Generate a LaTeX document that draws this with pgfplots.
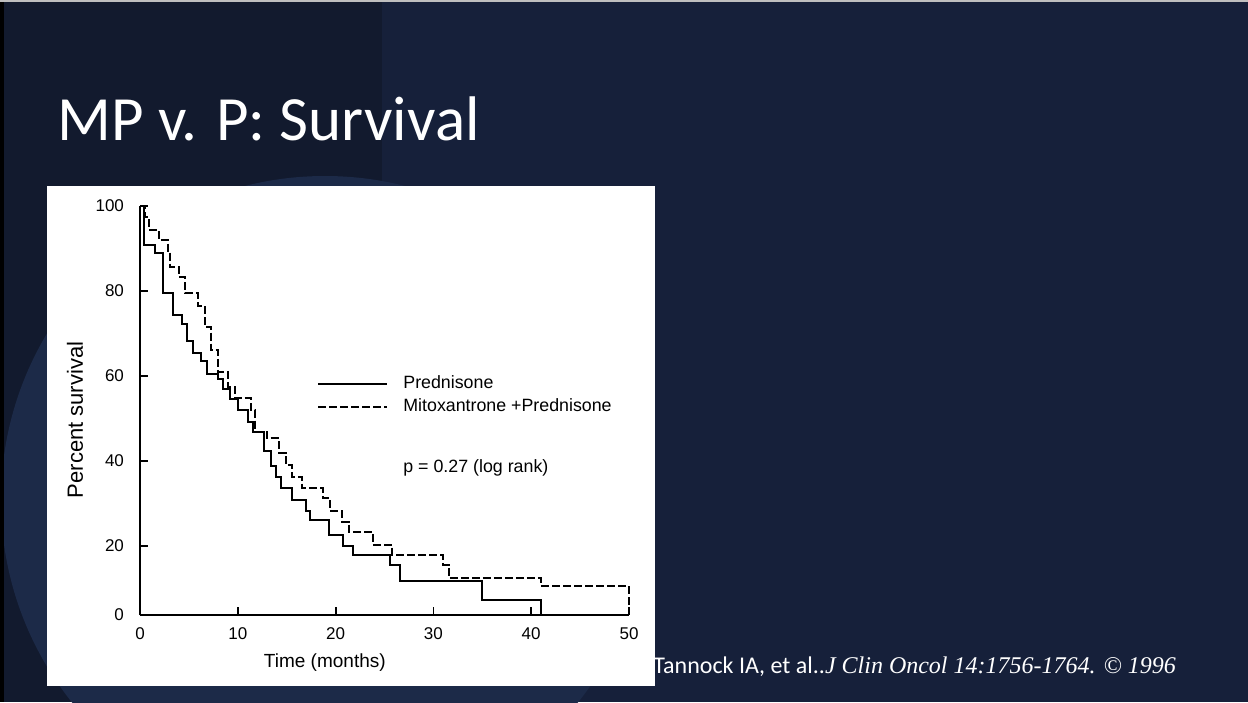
\documentclass[border=0pt]{standalone}
\usepackage{fontspec}
\setmainfont{Liberation Sans}
\newfontfamily\carlito{Carlito}
\newfontfamily\timesf{Liberation Serif}
\usepackage{pgfplots}
\pgfplotsset{compat=1.18}
\definecolor{bgmain}{HTML}{16203A}
\definecolor{bgleft}{HTML}{121A2E}
\definecolor{bgcircle}{HTML}{1C2A48}
\begin{document}
\begin{tikzpicture}
\useasboundingbox (0,0) rectangle (624pt,-351pt);
\begin{scope}[x=0.5pt,y=-0.5pt]
\fill[bgmain] (0,0) rectangle (1248,702);
\fill[bgleft] (0,0) rectangle (382,702);
\begin{scope}
\clip (0,0) rectangle (1248,702);
\fill[bgcircle] (325,500) circle[radius=162pt];
\end{scope}
\fill[black] (0,0) rectangle (4,702);
\fill[black!25] (0,0) rectangle (1248,2);
\fill[white] (47,186) rectangle (655,686);
\node[anchor=base west, text=white, font=\carlito\fontsize{31.5}{38}\selectfont, inner sep=0pt] at (57,140) {MP v. P: Survival};
% legend
\draw[black, line width=0.9pt] (318,384) -- (387,384);
\draw[black, line width=0.9pt, dash pattern=on 4pt off 1.5pt] (318,407) -- (387,407);
\node[anchor=base west, inner sep=0pt, font=\fontsize{8.9}{10}\selectfont] at (403,388) {Prednisone};
\node[anchor=base west, inner sep=0pt, font=\fontsize{8.9}{10}\selectfont] at (403,411) {Mitoxantrone +Prednisone};
\node[anchor=base west, inner sep=0pt, font=\fontsize{8.9}{10}\selectfont] at (403,472) {p = 0.27 (log rank)};
\node[anchor=base west, inner sep=0pt, text=white, font=\fontsize{12}{14}\selectfont] at (653,673) {{\carlito Tannock IA, et al..}{\timesf\itshape J Clin Oncol 14:1756-1764. \textcopyright{} 1996}};
\end{scope}
\begin{axis}[
  at={(70pt,-307.5pt)}, anchor=south west,
  scale only axis, width=244.5pt, height=204.5pt,
  xmin=0, xmax=50, ymin=3.7, ymax=100,
  axis x line=bottom, axis y line=left,
  axis line style={black, line width=0.9pt, -},
  xtick={0,10,20,30,40,50},
  ytick={3.7,20,40,60,80,100}, yticklabels={0,20,40,60,80,100},
  tick align=inside, major tick length=4pt,
  tick style={black, line width=0.9pt},
  ticklabel style={font=\fontsize{8.5}{10}\selectfont},
  every x tick label/.append style={yshift=-3pt},
  every y tick label/.append style={xshift=-4.5pt},
  /pgf/number format/assume math mode=true,
  xlabel={Time (months)}, ylabel={Percent survival},
  xlabel style={at={(axis description cs:0.378,-0.117)}, anchor=center, font=\fontsize{9.5}{11}\selectfont},
  ylabel style={at={(axis description cs:-0.133,0.477)}, anchor=center, font=\fontsize{11}{13}\selectfont},
  clip=false,
]
\addplot[const plot, black, line width=1pt] coordinates {
(0,100)(0.45,90.8)(1.5,88.9)(2.4,79.5)(3.4,74.4)(4.3,72.2)(4.8,68.3)(5.4,65.5)(6.2,63.4)(6.9,60.5)(8.0,59.3)(8.5,57.0)(9.2,54.6)(10.0,52.0)(11.0,49.2)(11.6,46.9)(12.7,42.3)(13.4,38.8)(13.9,36.3)(14.4,33.7)(15.5,30.8)(17.0,28.3)(17.4,26.1)(19.3,22.6)(20.8,20.0)(21.8,17.9)(25.6,15.5)(26.6,11.6)(35.0,7.3)(41.0,3.7)
};
\addplot[const plot, black, line width=1pt, dash pattern=on 4pt off 1.5pt] coordinates {
(0,100)(0.5,97.4)(0.9,94.4)(1.9,92.0)(2.9,89.5)(3.1,85.7)(4.0,83.4)(4.6,79.5)(5.9,76.5)(6.6,71.6)(7.3,66.0)(8.0,61.0)(9.0,57.5)(9.7,54.7)(11.3,52.0)(11.8,46.9)(13.0,45.3)(14.2,41.8)(14.9,39.1)(15.5,36.3)(16.6,33.7)(18.7,31.2)(19.4,28.3)(20.7,25.7)(21.4,23.3)(23.8,20.2)(25.8,17.9)(31.0,15.5)(31.6,12.4)(41.0,10.6)(50.0,3.7)
};
\end{axis}
\end{tikzpicture}
\end{document}
